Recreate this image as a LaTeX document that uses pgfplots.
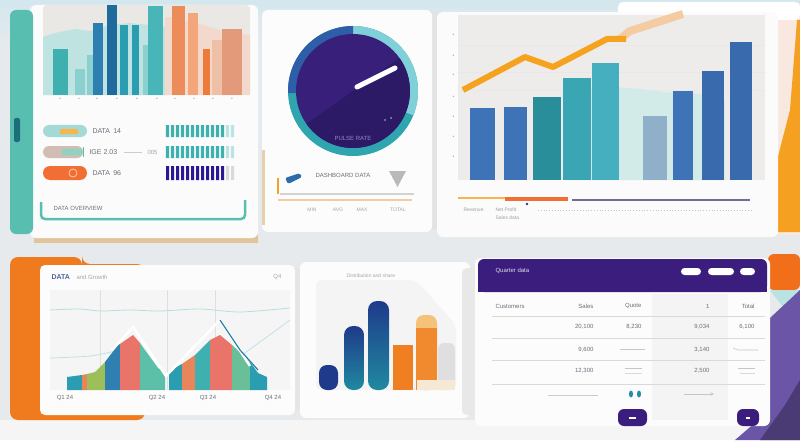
\documentclass[border=0pt]{standalone}
\usepackage{fontspec}
\setmainfont{Liberation Sans}
\usepackage{pgfplots}
\pgfplotsset{compat=1.18}
\definecolor{bgc}{HTML}{E6EAEC}
\definecolor{skyc}{HTML}{D3E7EE}
\definecolor{tanc}{HTML}{E2C49A}
\definecolor{chartbg}{HTML}{EAE8E5}
\definecolor{chartbg2}{HTML}{EDECEA}
\definecolor{tealL}{HTML}{58BFB0}
\definecolor{teal1}{HTML}{3FB0B0}
\definecolor{teal2}{HTML}{2A9DB0}
\definecolor{teal3}{HTML}{48B5B8}
\definecolor{tealP}{HTML}{8CCFCF}
\definecolor{tealVP}{HTML}{BFE3E0}
\definecolor{blue1}{HTML}{2C7FB0}
\definecolor{blue2}{HTML}{1F6A9C}
\definecolor{orng1}{HTML}{EC8C5A}
\definecolor{orng2}{HTML}{F2A679}
\definecolor{orng3}{HTML}{EF7B3A}
\definecolor{peach1}{HTML}{EFC0A8}
\definecolor{peach2}{HTML}{E29A7A}
\definecolor{peachVP}{HTML}{F3D9CB}
\definecolor{rb1}{HTML}{3F73B8}
\definecolor{rb2}{HTML}{3A6AAE}
\definecolor{rt1}{HTML}{2A8E9A}
\definecolor{rt2}{HTML}{3AA6B4}
\definecolor{rt3}{HTML}{45AFC0}
\definecolor{rgb}{HTML}{8FB0C8}
\definecolor{lineo}{HTML}{F5A31E}
\definecolor{lineP}{HTML}{F5CBA2}
\definecolor{gpurple}{HTML}{38207A}
\definecolor{gpurple2}{HTML}{2C1A66}
\definecolor{gblue}{HTML}{2F5EA8}
\definecolor{gteal}{HTML}{2FA5B0}
\definecolor{gtealL}{HTML}{7FD0D8}
\definecolor{navy}{HTML}{1F3A8A}
\definecolor{navyT}{HTML}{1F8AA0}
\definecolor{orB}{HTML}{F07F22}
\definecolor{orC}{HTML}{F6C27A}
\definecolor{beige}{HTML}{F5E9D6}
\definecolor{hdr}{HTML}{3A1D7C}
\definecolor{purp}{HTML}{6A55A6}
\definecolor{orangeE}{HTML}{F07B1E}
\definecolor{orangeR}{HTML}{F5A020}
\definecolor{salmon}{HTML}{E8746A}
\definecolor{greenS}{HTML}{9CBF5A}
\definecolor{tealG}{HTML}{5CC0A8}
\definecolor{bluS}{HTML}{2F7FB0}
\definecolor{oS}{HTML}{E8855A}
\definecolor{txt}{HTML}{6B6F78}
\newcommand{\ft}{\fontsize{6}{7}\selectfont}
\newcommand{\fs}{\fontsize{7}{8}\selectfont}
\pgfplotsset{
  plain/.style={scale only axis, anchor=south west, axis line style={draw=none},
    tick style={draw=none}, xtick=\empty, ytick=\empty, clip=false},
  bb/.style 2 args={ybar, bar shift=0pt, bar width=#1, fill=#2, draw=none},
}
\begin{document}
\begin{tikzpicture}[x=1pt,y=1pt]
\useasboundingbox (0,0) rectangle (800,440);
% background
\fill[bgc] (0,0) rectangle (800,440);
\shade[top color=skyc, bottom color=bgc] (0,395) rectangle (800,440);
\fill[gray!8] (0,0) rectangle (800,20);
% ---------------- top-left card ----------------
\fill[tanc] (34,197) rectangle (258,207);
\fill[white!97!gray, rounded corners=6] (30,202) rectangle (258,435);
\fill[tealL, rounded corners=6] (10,206) rectangle (33,430);
\fill[teal2!70!black, rounded corners=2] (14,298) rectangle (20,322);
\fill[chartbg, rounded corners=4] (43,345) rectangle (250,435);
\begin{axis}[plain, at={(43pt,345pt)}, width=207pt, height=90pt,
  xmin=43, xmax=250, ymin=0, ymax=90,
  xtick={60,79,97,117,137,157,175,194,213,232},
  xticklabels={\textbullet,\textbullet,\textbullet,\textbullet,\textbullet,\textbullet,\textbullet,\textbullet,\textbullet,\textbullet},
  xticklabel style={font=\tiny, text=gray!70}]
\addplot[fill=tealVP, draw=none] coordinates {(43,58)(55,62)(75,66)(90,64)(110,70)(130,72)(150,70)(165,68)} \closedcycle;
\addplot[fill=peachVP, draw=none] coordinates {(165,72)(190,74)(210,68)(230,62)(250,60)} \closedcycle;
\addplot[bb={15}{teal1}] coordinates {(60.5,46)};
\addplot[bb={10}{tealP}] coordinates {(80,26)};
\addplot[bb={6}{tealP}] coordinates {(90,40)};
\addplot[bb={10}{blue1}] coordinates {(98,72)};
\addplot[bb={10}{blue2}] coordinates {(112,90)};
\addplot[bb={8}{teal2}] coordinates {(124,70)};
\addplot[bb={7}{teal2}] coordinates {(135.5,70)};
\addplot[bb={5}{tealP}] coordinates {(145.5,50)};
\addplot[bb={15}{teal3}] coordinates {(155.5,89)};
\addplot[bb={7}{peachVP}] coordinates {(168.5,78)};
\addplot[bb={13}{orng1}] coordinates {(178.5,89)};
\addplot[bb={10}{orng2}] coordinates {(193,82)};
\addplot[bb={7}{orng3}] coordinates {(206.5,46)};
\addplot[bb={10}{peach1}] coordinates {(217,55)};
\addplot[bb={20}{peach2}] coordinates {(232,66)};
\end{axis}
% pill rows
\fill[tealVP!80!teal1, rounded corners=6] (43,303) rectangle (87,315);
\fill[lineo!80, rounded corners=1] (60,306) rectangle (78,311);
\node[anchor=west, text=txt, font=\fs] at (89,309) {DATA\, 14};
\fill[gray!30!peachVP, rounded corners=6] (43,282) rectangle (83,294);
\fill[tealG!70, rounded corners=1] (62,285) rectangle (82,291);
\draw[tealG, line width=1] (83,283) -- (83,293);
\node[anchor=west, text=txt, font=\fs] at (86,288) {IGE 2.03};
\draw[gray!40, line width=1] (124,288) -- (142,288);
\node[anchor=west, text=gray!70, font=\ft] at (144,288) {005};
\fill[orng3!90!red, rounded corners=7] (43,260) rectangle (87,274);
\draw[white!60!orng3, line width=0.8] (73,267) circle (4);
\node[anchor=west, text=txt, font=\fs] at (89,267) {DATA\, 96};
\begin{axis}[plain, at={(165pt,303pt)}, width=70pt, height=12pt, xmin=0.5, xmax=14.5, ymin=0, ymax=1]
\addplot[bb={0.62}{teal1}] coordinates {(1,1)(2,1)(3,1)(4,1)(5,1)(6,1)(7,1)(8,1)(9,1)(10,1)(11,1)(12,1)};
\addplot[bb={0.62}{teal1!35}] coordinates {(13,1)(14,1)};
\end{axis}
\begin{axis}[plain, at={(165pt,282pt)}, width=70pt, height=12pt, xmin=0.5, xmax=14.5, ymin=0, ymax=1]
\addplot[bb={0.62}{teal1}] coordinates {(1,1)(2,1)(3,1)(4,1)(5,1)(6,1)(7,1)(8,1)(9,1)(10,1)(11,1)(12,1)};
\addplot[bb={0.62}{teal1!35}] coordinates {(13,1)(14,1)};
\end{axis}
\begin{axis}[plain, at={(165pt,260pt)}, width=70pt, height=14pt, xmin=0.5, xmax=14.5, ymin=0, ymax=1]
\addplot[bb={0.6}{hdr!80!blue}] coordinates {(1,1)(2,1)(3,1)(4,1)(5,1)(6,1)(7,1)(8,1)(9,1)(10,1)(11,1)(12,1)};
\addplot[bb={0.6}{gray!30}] coordinates {(13,1)(14,1)};
\end{axis}
\draw[tealL, line width=2.5, rounded corners=4] (41,238) -- (41,221) -- (245,221) -- (245,240);
\node[anchor=west, text=txt, font=\ft] at (50,232) {DATA OVERVIEW};
% ---------------- top-middle card ----------------
\fill[gray!22, rounded corners=4] (428,210) rectangle (438,428);
\fill[white!98!gray, rounded corners=6] (262,208) rectangle (432,430);
\fill[tanc!80] (262,215) rectangle (265,290);
\fill[gteal] (353,349) circle (65);
\fill[gtealL] (353,349) -- ++(90:65) arc (90:-22:65) -- cycle;
\fill[gblue] (353,349) -- ++(90:65) arc (90:182:65) -- cycle;
\fill[gpurple] (353,349) circle (57);
\fill[gpurple2] (353,349) -- ++(35:57) arc (35:-145:57) -- cycle;
\draw[white, line width=5, line cap=round] (357,353) -- (395,372);
\node[text=purp!70!white, font=\ft] at (353,302) {PULSE RATE};
\fill[purp!60!white] (385,320) circle (1); \fill[purp!60!white] (391,322) circle (1);
\draw[lineo, line width=2] (278,246) -- (278,262);
\fill[gblue!80!teal2, rounded corners=2] (285,262) -- (300,267) -- (302,263) -- (288,256) -- cycle;
\node[anchor=west, text=txt, font=\ft] at (312,265) {DASHBOARD DATA};
\fill[gray!55] (389,269) -- (406,269) -- (397.5,253) -- cycle;
\draw[gray!35, line width=1.5] (280,246) -- (414,246);
\draw[lineP, line width=1.5] (278,240) -- (412,240);
\node[text=gray!70, font=\tiny] at (312,230) {MIN};
\node[text=gray!70, font=\tiny] at (338,230) {AVG};
\node[text=gray!70, font=\tiny] at (362,230) {MAX};
\node[text=gray!70, font=\tiny] at (398,230) {TOTAL};
% ---------------- top-right card ----------------
\fill[peachVP!60!white] (765,205) rectangle (800,436);
\fill[white, rounded corners=5] (618,420) rectangle (800,438);
\fill[orangeR] (797,420) -- (800,420) -- (800,208) -- (778,208) -- (775,240) -- (775,272) -- (790,330) -- cycle;
\fill[white!97!gray, rounded corners=6] (437,203) rectangle (778,428);
\fill[chartbg2] (458,260) rectangle (765,425);
\begin{axis}[plain, at={(458pt,260pt)}, width=307pt, height=165pt,
  xmin=458, xmax=765, ymin=0, ymax=165,
  ytick={23,43,63,83,105,124,145},
  yticklabels={\textbullet,\textbullet,\textbullet,\textbullet,\textbullet,\textbullet,\textbullet},
  yticklabel style={font=\tiny, text=gray!70}]
\addplot[gray!18, line width=0.8] coordinates {(458,135)(765,135)};
\addplot[gray!18, line width=0.8] coordinates {(458,108)(765,108)};
\addplot[gray!18, line width=0.8] coordinates {(458,90)(765,90)};
\addplot[fill=tealVP!70!white, draw=none] coordinates {(568,88)(590,91)(615,93)(640,91)(665,88)(700,86)(725,78)} \closedcycle;
\addplot[bb={25}{rb1}] coordinates {(482.5,72)};
\addplot[bb={23}{rb1}] coordinates {(515.5,73)};
\addplot[bb={28}{rt1}] coordinates {(547,83)};
\addplot[bb={28}{rt2}] coordinates {(577,102)};
\addplot[bb={27}{rt3}] coordinates {(605.5,117)};
\addplot[bb={24}{rgb}] coordinates {(655,64)};
\addplot[bb={20}{rb1}] coordinates {(683,89)};
\addplot[bb={22}{rb2}] coordinates {(713,109)};
\addplot[bb={22}{rb2}] coordinates {(741,138)};
\addplot[lineP, line width=8] coordinates {(620,141)(630,149)(683,166)};
\addplot[lineo, line width=6, line join=round] coordinates {(463,90)(525,123)(553,113)(607,141)(626,141)};
\end{axis}
\draw[lineo!80, line width=2] (458,242) -- (505,242);
\draw[orng3!90!red, line width=3.5] (505,241) -- (568,241);
\draw[purp!50!gray, line width=1.2] (572,240) -- (750,240);
\fill[navy] (527,236) circle (1.3);
\node[anchor=west, text=gray!75, font=\tiny] at (460,230) {Revenue};
\node[anchor=west, text=gray!75, font=\tiny] at (492,230) {Net Profit};
\node[anchor=west, text=gray!75, font=\tiny] at (492,222) {Sales data};
\draw[gray!45, dotted, line width=0.8] (538,230) -- (752,230);
% ---------------- bottom-left card ----------------
\fill[orangeE, rounded corners=8] (10,183) -- (82,183) -- (82,176) -- (145,176) -- (145,20) -- (10,20) -- cycle;
\fill[gray!20, rounded corners=4] (292,30) rectangle (300,172);
\fill[white!98!gray, rounded corners=5] (40,25) rectangle (295,175);
\node[anchor=west, text=navy!80, font=\fs\bfseries] at (48,163) {DATA};
\node[anchor=west, text=gray!70, font=\ft] at (73,163) {and Growth};
\node[anchor=east, text=gray!70, font=\ft] at (285,163) {Q4};
\fill[gray!8] (50,50) rectangle (290,150);
\begin{axis}[plain, at={(50pt,50pt)}, width=240pt, height=100pt,
  xmin=50, xmax=290, ymin=0, ymax=100,
  xtick={65,157,208,273}, xticklabels={Q1 24,Q2 24,Q3 24,Q4 24},
  xticklabel style={font=\ft, text=txt, yshift=-2pt}]
\addplot[gray!25, line width=0.6] coordinates {(100,0)(100,100)};
\addplot[gray!25, line width=0.6] coordinates {(167,0)(167,100)};
\addplot[gray!25, line width=0.6] coordinates {(215,0)(215,100)};
\addplot[teal2!35, line width=0.8, smooth] coordinates {(50,80)(80,81)(100,79)(130,80)(160,79)(200,81)(240,78)(290,82)};
\addplot[teal2!30, line width=0.8, smooth] coordinates {(50,32)(90,34)(120,40)};
\addplot[teal2!30, line width=0.8, smooth] coordinates {(235,30)(260,48)(290,70)};
\addplot[fill=teal2, draw=none] coordinates {(67,13)(82,15)} \closedcycle;
\addplot[fill=oS, draw=none] coordinates {(82,15)(87,16)} \closedcycle;
\addplot[fill=greenS, draw=none] coordinates {(87,16)(95,18)(105,28)} \closedcycle;
\addplot[fill=bluS, draw=none] coordinates {(105,28)(118,45)(120,46)} \closedcycle;
\addplot[fill=salmon, draw=none] coordinates {(120,46)(133,55)(140,47)} \closedcycle;
\addplot[fill=tealG, draw=none] coordinates {(140,47)(145,40)(158,22)(165,18)} \closedcycle;
\addplot[fill=teal2, draw=none] coordinates {(169,18)(180,25)(182,26)} \closedcycle;
\addplot[fill=oS, draw=none] coordinates {(182,26)(195,35)} \closedcycle;
\addplot[fill=teal1, draw=none] coordinates {(195,35)(210,50)} \closedcycle;
\addplot[fill=salmon, draw=none] coordinates {(210,50)(220,55)(232,45)} \closedcycle;
\addplot[fill=tealG!80!greenS, draw=none] coordinates {(232,45)(245,33)(250,28)} \closedcycle;
\addplot[fill=teal2, draw=none] coordinates {(250,28)(258,17)(267,13)} \closedcycle;
\addplot[white, line width=2.5] coordinates {(112,40)(133,63)(166,14)(220,70)(250,24)};
\addplot[teal2!70!navy, line width=1.2] coordinates {(220,70)(240,40)(258,20)};
\end{axis}
% ---------------- bottom-middle card ----------------
\fill[white!98!gray, rounded corners=6] (300,22) rectangle (470,178);
\fill[gray!9, rounded corners=6] (316,50) -- (316,160) -- (416,160) -- (456,115) -- (456,50) -- cycle;
\node[anchor=west, text=gray!70, font=\tiny] at (343,164) {Distribution and share};
\begin{axis}[plain, at={(315pt,50pt)}, width=145pt, height=110pt,
  xmin=315, xmax=460, ymin=0, ymax=110]
\addplot[bb={19}{navy}, rounded corners=8pt] coordinates {(328.5,25)};
\addplot[ybar, bar shift=0pt, bar width=20, top color=navy, bottom color=navyT, draw=none, rounded corners=9pt] coordinates {(354,64)};
\addplot[ybar, bar shift=0pt, bar width=21, top color=navy, bottom color=navyT, draw=none, rounded corners=9pt] coordinates {(378.5,89)};
\addplot[bb={20}{orB}] coordinates {(403,45)};
\addplot[bb={21}{orC}, rounded corners=8pt] coordinates {(426.5,75)};
\addplot[bb={21}{orB!85!orC}] coordinates {(426.5,62)};
\addplot[bb={17}{gray!25}, rounded corners=6pt] coordinates {(446.5,47)};
\addplot[bb={38}{beige}] coordinates {(436,10)};
\end{axis}
% ---------------- bottom-right card ----------------
\fill[orangeE!90!red, rounded corners=6] (768,150) rectangle (800,186);
\fill[tealP!60!white] (770,150) -- (800,150) -- (800,110) -- cycle;
\fill[purp] (800,150) -- (800,0) -- (735,0) -- (770,30) -- (770,122) -- cycle;
\fill[purp!70!black] (800,0) -- (760,0) -- (785,35) -- (800,60) -- cycle;
\fill[gray!18, rounded corners=5] (462,25) rectangle (482,172);
\fill[white!98!gray, rounded corners=6] (475,14) rectangle (770,182);
\fill[hdr, rounded corners=6] (478,148) rectangle (767,181);
\fill[hdr] (478,148) rectangle (767,156);
\node[anchor=west, text=white!85!hdr, font=\ft] at (492,169) {Quarter data};
\fill[white, rounded corners=3.5] (681,165) rectangle (701,172);
\fill[white, rounded corners=3.5] (708,165) rectangle (734,172);
\fill[white, rounded corners=3.5] (740,165) rectangle (755,172);
\fill[gray!9] (652,20) rectangle (728,146);
\foreach \yy in {124,102,80,56} {\draw[gray!30, line width=0.6] (492,\yy) -- (765,\yy);}
\node[anchor=west, text=txt, font=\ft] at (492,134) {Customers};
\node[anchor=east, text=txt, font=\ft] at (597,134) {Sales};
\node[anchor=east, text=txt, font=\ft] at (645,134) {Quote};
\node[anchor=east, text=txt, font=\ft] at (713,134) {1};
\node[anchor=east, text=txt, font=\ft] at (758,134) {Total};
\node[anchor=east, text=txt, font=\ft] at (597,113) {20,100};
\node[anchor=east, text=txt, font=\ft] at (645,113) {8,230};
\node[anchor=east, text=txt, font=\ft] at (713,113) {9,034};
\node[anchor=east, text=txt, font=\ft] at (758,113) {6,100};
\node[anchor=east, text=txt, font=\ft] at (597,90) {9,600};
\draw[gray!45, line width=0.6] (620,91) -- (645,91);
\node[anchor=east, text=txt, font=\ft] at (713,90) {3,140};
\draw[gray!45, line width=0.6] (733,92) -- (738,90) -- (758,90);
\node[anchor=east, text=txt, font=\ft] at (597,69) {12,300};
\draw[gray!45, line width=0.6] (625,72) -- (642,72);
\draw[gray!30, line width=0.6] (625,67) -- (642,67);
\node[anchor=east, text=txt, font=\ft] at (713,69) {2,500};
\draw[gray!45, line width=0.6] (738,72) -- (755,72);
\draw[gray!30, line width=0.6] (740,67) -- (755,67);
\draw[gray!40, line width=1] (548,45) -- (598,45);
\fill[teal2!80!navy] (631,46) ellipse (2 and 3.5);
\fill[teal2!80!navy] (639,46) ellipse (2 and 3.5);
\draw[gray!45, line width=0.6, -stealth] (684,46) -- (714,46);
\fill[hdr, rounded corners=6] (618,14) rectangle (647,31);
\fill[white] (629,21.5) rectangle (636,23.5);
\fill[hdr, rounded corners=6] (737,14) rectangle (759,31);
\fill[white] (746,21.5) rectangle (750,23.5);
\end{tikzpicture}
\end{document}
